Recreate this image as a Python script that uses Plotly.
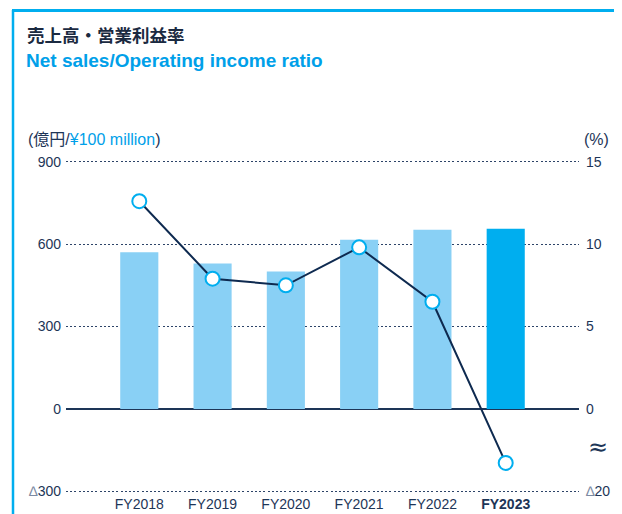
import plotly.graph_objects as go

categories = ["FY2018", "FY2019", "FY2020", "FY2021", "FY2022", "FY2023"]
net_sales = [570, 529, 500, 616, 652, 656]          # 億円
op_ratio = [12.6, 7.9, 7.5, 9.8, 6.5, -13.1]          # %
left_ticks = [-300, 0, 300, 600, 900]
left_ticktext = ["<span style='color:#7b8aa3'>∆</span>300", "0", "300", "600", "900"]
right_ticks = [-5, 0, 5, 10, 15]
right_ticktext = ["<span style='color:#7b8aa3'>∆</span>20", "0", "5", "10", "15"]

# broken right axis: 0..-20 compressed into one 5-unit band
def ratio_display(v):
    return v * 5 / 20 if v < 0 else v

# figure is placed inside the page body (8px margin), screen = fig + 8
OFF = 8
W, H = 614, 506
L, R, T, B = 58, 43, 152, 21
pw, ph = W - L - R, H - T - B

def px(xs):
    return (xs - OFF - L) / pw

def py(ys):
    return (H - B - (ys - OFF)) / ph

NAVY = "#1d3557"
BLUE = "#00aeef"
LIGHT = "#89d0f5"
FONT = "Liberation Sans, Arial, sans-serif"
JFONT = "Noto Sans CJK JP, sans-serif"
MIXFONT = "Liberation Sans, Noto Sans CJK JP, sans-serif"

bar_colors = [LIGHT] * (len(categories) - 1) + [BLUE]

fig = go.Figure()
fig.add_trace(go.Bar(x=categories, y=net_sales, marker=dict(color=bar_colors, line=dict(width=0)),
                     width=0.52, hoverinfo="skip"))
fig.add_trace(go.Scatter(x=categories, y=[ratio_display(v) for v in op_ratio], yaxis="y2",
                         mode="lines+markers", cliponaxis=False,
                         line=dict(color="#0e2a50", width=2),
                         marker=dict(size=14, color="white", line=dict(color=BLUE, width=2)),
                         hoverinfo="skip"))

fig.update_layout(
    width=W, height=H, margin=dict(l=L, r=R, t=T, b=B, autoexpand=False),
    paper_bgcolor="white", plot_bgcolor="white", showlegend=False,
    font=dict(family=FONT, color=NAVY, size=14),
    xaxis=dict(type="category", range=[-1, 6], showgrid=False, zeroline=False, showline=False,
               automargin=False, tickvals=categories,
               ticktext=categories[:-1] + ["<b>" + categories[-1] + "</b>"],
               tickfont=dict(size=14, color=NAVY), ticklabelstandoff=1),
    yaxis=dict(range=[-306, 906], tickvals=left_ticks, ticktext=left_ticktext, automargin=False,
               showgrid=True, gridcolor="#2d4468", griddash="2px,2.2px", gridwidth=1.2,
               zeroline=True, zerolinecolor=NAVY, zerolinewidth=2, showline=False,
               ticklabelstandoff=4, tickfont=dict(size=14, color=NAVY)),
    yaxis2=dict(range=[-5.1, 15.1], overlaying="y", side="right", tickvals=right_ticks,
                automargin=False, ticktext=right_ticktext, showgrid=False, zeroline=False,
                showline=False, ticklabelstandoff=6, tickfont=dict(size=14, color=NAVY)),
)

annotations = [
    dict(x=px(25), y=py(35), text="<b>売上高・営業利益率</b>", xanchor="left", yanchor="middle",
         font=dict(family=JFONT, size=17.5, color="#1b2a41"), showarrow=False),
    dict(x=px(24), y=py(60), text="<b>Net sales/Operating income ratio</b>", xanchor="left",
         yanchor="middle", font=dict(family=FONT, size=19, color="#00a0e9"), showarrow=False),
    dict(x=px(26), y=py(139),
         text="(億円/<span style='color:#00a0e9'>¥100 million</span>)",
         xanchor="left", yanchor="middle", font=dict(family=MIXFONT, size=16, color=NAVY),
         showarrow=False),
    dict(x=px(582), y=py(139), text="(%)", xanchor="left", yanchor="middle",
         font=dict(family=FONT, size=16, color=NAVY), showarrow=False),
    dict(x=px(598), y=py(447), text="≈", xanchor="center", yanchor="middle",
         font=dict(family="DejaVu Sans", size=24, color=NAVY), showarrow=False),
]
for a in annotations:
    a.update(xref="paper", yref="paper")
fig.update_layout(annotations=annotations)

fig.add_shape(type="line", xref="paper", yref="paper", x0=px(13), x1=px(13), y0=py(10), y1=py(530),
              line=dict(color=BLUE, width=2.5))
fig.add_shape(type="line", xref="paper", yref="paper", x0=px(12), x1=px(640), y0=py(10.5), y1=py(10.5),
              line=dict(color=BLUE, width=3))

fig.write_html("out.html")
